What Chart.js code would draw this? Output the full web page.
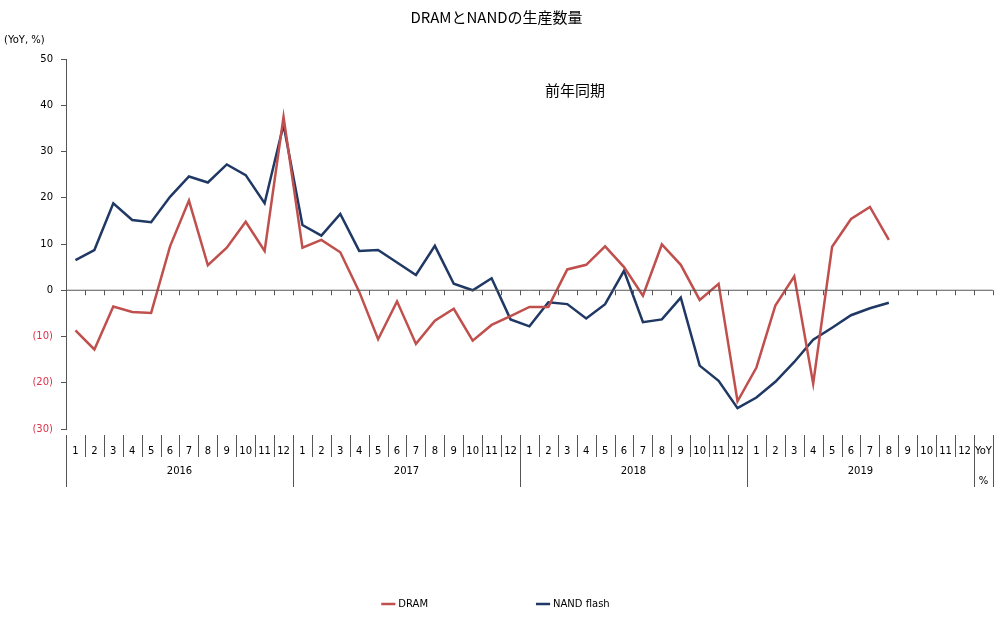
<!DOCTYPE html>
<html>
<head>
<meta charset="utf-8">
<script src="https://cdn.jsdelivr.net/npm/chart.js@4"></script>
<style>
  body { margin: 0; background: #fff; }
</style>
</head>
<body>
<canvas id="myChart" width="1000" height="619"></canvas>
<script>
// 月ラベル（2016〜2019、最後はYoY列）
const years = ['2016', '2017', '2018', '2019'];
const months = ['1', '2', '3', '4', '5', '6', '7', '8', '9', '10', '11', '12'];
const labels = [];
years.forEach(y => months.forEach(m => labels.push(m)));
labels.push('YoY');

const dram = [
  -8.7, -12.8, -3.5, -4.7, -4.9, 9.5, 19.4, 5.4, 9.2, 14.8, 8.5, 37.5,
  9.2, 10.9, 8.2, -0.3, -10.6, -2.4, -11.6, -6.6, -4.0, -10.9, -7.5, -5.6,
  -3.6, -3.6, 4.5, 5.5, 9.5, 5.0, -1.2, 9.9, 5.5, -2.1, 1.4, -24.0,
  -16.7, -3.3, 3.0, -20.2, 9.4, 15.4, 18.0, 10.9, null, null, null, null, null
];
const nand = [
  6.5, 8.7, 18.8, 15.2, 14.7, 20.2, 24.6, 23.3, 27.2, 24.9, 18.8, 35.8,
  14.1, 11.8, 16.5, 8.5, 8.7, 6.0, 3.3, 9.6, 1.4, 0.0, 2.6, -6.3,
  -7.8, -2.6, -3.0, -6.1, -3.0, 4.2, -6.9, -6.3, -1.6, -16.3, -19.6, -25.5,
  -23.2, -19.8, -15.5, -10.7, -8.1, -5.4, -3.9, -2.7, null, null, null, null, null
];

const axisColor = '#555';

// ゼロ線・区切り線・年ラベルなど
const decor = {
  id: 'decor',
  afterDraw(chart) {
    const { ctx, chartArea: a, scales: { x, y } } = chart;
    const half = (x.getPixelForValue(1) - x.getPixelForValue(0)) / 2;
    const y0 = y.getPixelForValue(0);
    ctx.save();
    ctx.strokeStyle = axisColor;
    ctx.lineWidth = 1;
    ctx.beginPath();
    ctx.moveTo(a.left, y0); ctx.lineTo(a.right, y0);
    for (let i = 0; i <= labels.length; i++) {
      const px = Math.round(x.getPixelForValue(i) - half) + 0.5;
      ctx.moveTo(px, y0); ctx.lineTo(px, y0 + 5);
      const long = i % 12 === 0 || i === labels.length;
      ctx.moveTo(px, a.bottom + 6); ctx.lineTo(px, a.bottom + (long ? 58 : 28));
    }
    ctx.stroke();
    ctx.fillStyle = '#000';
    ctx.font = '10px "DejaVu Sans"';
    ctx.textAlign = 'center';
    years.forEach((yr, k) => {
      const cx = (x.getPixelForValue(k * 12) + x.getPixelForValue(k * 12 + 11)) / 2;
      ctx.fillText(yr, cx, a.bottom + 42);
    });
    ctx.fillText('%', x.getPixelForValue(48), a.bottom + 52);
    ctx.textAlign = 'left';
    ctx.fillText('(YoY, %)', 4, 40);
    ctx.font = '15px "Noto Sans CJK JP"';
    ctx.textAlign = 'center';
    ctx.fillText('前年同期', 575, 90);
    ctx.restore();
  }
};

const ctx = document.getElementById('myChart').getContext('2d');
const myChart = new Chart(ctx, {
  type: 'line',
  data: {
    labels: labels,
    datasets: [
      { label: 'DRAM', data: dram, borderColor: '#c0504d', backgroundColor: '#c0504d', borderWidth: 2.5, pointRadius: 0, tension: 0 },
      { label: 'NAND flash', data: nand, borderColor: '#1f3864', backgroundColor: '#1f3864', borderWidth: 2.5, pointRadius: 0, tension: 0 }
    ]
  },
  options: {
    responsive: false,
    animation: false,
    layout: { padding: { top: 0, right: 7, bottom: 0, left: 0 } },
    plugins: {
      title: {
        display: true,
        text: 'DRAMとNANDの生産数量',
        color: '#000',
        font: { family: '"Noto Sans CJK JP"', size: 15, weight: 'normal' },
        padding: { top: 8, bottom: 33 }
      },
      legend: {
        position: 'bottom',
        labels: {
          usePointStyle: true, pointStyle: 'line', boxWidth: 40, padding: 110,
          color: '#000', font: { family: '"DejaVu Sans"', size: 10 }
        }
      },
      tooltip: { enabled: false }
    },
    scales: {
      x: {
        offset: true,
        grid: { display: false },
        border: { display: false },
        ticks: { color: '#000', font: { family: '"DejaVu Sans"', size: 10 }, maxRotation: 0, autoSkip: false, padding: 8 },
        afterFit: s => { s.height = 60; }
      },
      y: {
        min: -30, max: 50,
        ticks: {
          stepSize: 10,
          font: { family: '"DejaVu Sans"', size: 10 },
          color: c => c.tick.value < 0 ? '#e0304a' : '#000',
          callback: v => v < 0 ? '(' + Math.abs(v) + ')' : v,
          padding: 8
        },
        grid: { drawOnChartArea: false, tickLength: 5, color: axisColor },
        border: { color: axisColor },
        afterFit: s => { s.width = 66; }
      }
    }
  },
  plugins: [decor]
});
</script>
</body>
</html>
